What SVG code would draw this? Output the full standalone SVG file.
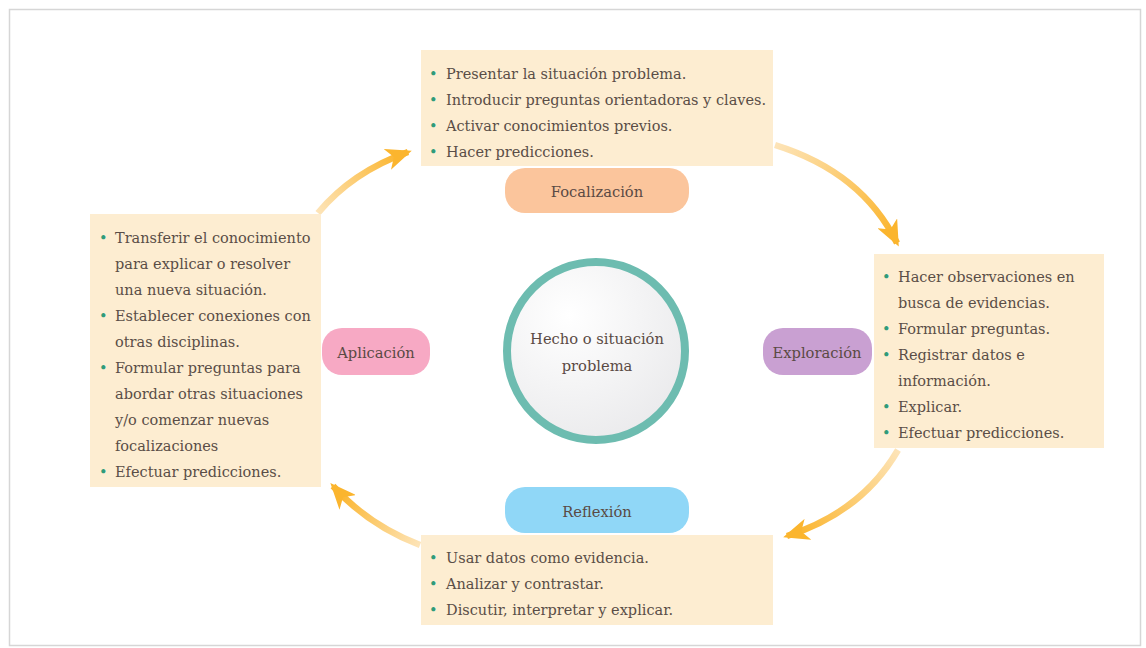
<svg xmlns="http://www.w3.org/2000/svg" width="1146" height="648" viewBox="0 0 1146 648">
<defs>
<style>
.box{fill:#fdedd1}
.t{font-family:"DejaVu Serif",serif;font-size:14.5px;fill:#5a4e47}
.b{fill:#2f9b7a}
.lbl{font-family:"DejaVu Serif",serif;font-size:14.7px;fill:#5a4a44;text-anchor:middle}
.arr{fill:none;stroke-width:6.5;stroke-linecap:butt}
</style>
<radialGradient id="cg" cx="0.35" cy="0.3" r="0.8">
<stop offset="0" stop-color="#ffffff"/>
<stop offset="1" stop-color="#e9e9eb"/>
</radialGradient>
<marker id="ah" viewBox="0 0 26 22" refX="22" refY="11" markerWidth="26" markerHeight="22" markerUnits="userSpaceOnUse" orient="auto">
<path d="M0,0 L26,11 L0,22 L7,11 Z" fill="#fbb52e"/>
</marker>
<linearGradient id="g1" gradientUnits="userSpaceOnUse" x1="318" y1="213" x2="400" y2="155"><stop offset="0" stop-color="#fde4b8"/><stop offset="1" stop-color="#fbb52e"/></linearGradient>
<linearGradient id="g2" gradientUnits="userSpaceOnUse" x1="775" y1="145" x2="892" y2="235"><stop offset="0" stop-color="#fde4b8"/><stop offset="1" stop-color="#fbb52e"/></linearGradient>
<linearGradient id="g3" gradientUnits="userSpaceOnUse" x1="898" y1="450" x2="795" y2="532"><stop offset="0" stop-color="#fde4b8"/><stop offset="1" stop-color="#fbb52e"/></linearGradient>
<linearGradient id="g4" gradientUnits="userSpaceOnUse" x1="420" y1="545" x2="340" y2="492"><stop offset="0" stop-color="#fde4b8"/><stop offset="1" stop-color="#fbb52e"/></linearGradient>
</defs>
<rect x="0" y="0" width="1146" height="648" fill="#ffffff"/>
<rect x="9.5" y="9.5" width="1131" height="636" fill="#ffffff" stroke="#d6d6d6" stroke-width="1.5"/>

<g id="connectors">
<path class="arr" stroke="url(#g1)" d="M318,213 Q352,172 408,152" marker-end="url(#ah)"/>
<path class="arr" stroke="url(#g2)" d="M775,145 Q862,172 897,243" marker-end="url(#ah)"/>
<path class="arr" stroke="url(#g3)" d="M898,450 Q862,512 787,536" marker-end="url(#ah)"/>
<path class="arr" stroke="url(#g4)" d="M420,545 Q368,525 333,486" marker-end="url(#ah)"/>
</g>

<g id="center">
<circle cx="596" cy="351" r="89" fill="url(#cg)" stroke="#6dbcb0" stroke-width="8"/>
<text class="lbl" x="597" y="344">Hecho o situación</text>
<text class="lbl" x="597" y="371">problema</text>
</g>

<g id="focalizacion">
<rect class="box" x="421" y="50" width="352" height="116"/>
<text class="t"><tspan class="b" x="429" y="79">•</tspan><tspan x="446">Presentar la situación problema.</tspan></text>
<text class="t"><tspan class="b" x="429" y="105">•</tspan><tspan x="446">Introducir preguntas orientadoras y claves.</tspan></text>
<text class="t"><tspan class="b" x="429" y="131">•</tspan><tspan x="446">Activar conocimientos previos.</tspan></text>
<text class="t"><tspan class="b" x="429" y="157">•</tspan><tspan x="446">Hacer predicciones.</tspan></text>
<rect x="505" y="168" width="184" height="45" rx="20" fill="#fbc59c"/>
<text class="lbl" x="597" y="197">Focalización</text>
</g>

<g id="exploracion">
<rect class="box" x="874" y="254" width="230" height="194"/>
<text class="t"><tspan class="b" x="882" y="282">•</tspan><tspan x="898">Hacer observaciones en</tspan></text>
<text class="t" x="898" y="308">busca de evidencias.</text>
<text class="t"><tspan class="b" x="882" y="334">•</tspan><tspan x="898">Formular preguntas.</tspan></text>
<text class="t"><tspan class="b" x="882" y="360">•</tspan><tspan x="898">Registrar datos e</tspan></text>
<text class="t" x="898" y="386">información.</text>
<text class="t"><tspan class="b" x="882" y="412">•</tspan><tspan x="898">Explicar.</tspan></text>
<text class="t"><tspan class="b" x="882" y="438">•</tspan><tspan x="898">Efectuar predicciones.</tspan></text>
<rect x="763" y="328" width="109" height="47" rx="20" fill="#c9a0d2"/>
<text class="lbl" x="817" y="358">Exploración</text>
</g>

<g id="reflexion">
<rect class="box" x="421" y="535" width="352" height="90"/>
<text class="t"><tspan class="b" x="429" y="563">•</tspan><tspan x="446">Usar datos como evidencia.</tspan></text>
<text class="t"><tspan class="b" x="429" y="589">•</tspan><tspan x="446">Analizar y contrastar.</tspan></text>
<text class="t"><tspan class="b" x="429" y="615">•</tspan><tspan x="446">Discutir, interpretar y explicar.</tspan></text>
<rect x="505" y="487" width="184" height="46" rx="20" fill="#90d7f7"/>
<text class="lbl" x="597" y="517">Reflexión</text>
</g>

<g id="aplicacion">
<rect class="box" x="90" y="214" width="231" height="273"/>
<text class="t"><tspan class="b" x="99" y="243">•</tspan><tspan x="115">Transferir el conocimiento</tspan></text>
<text class="t" x="115" y="269">para explicar o resolver</text>
<text class="t" x="115" y="295">una nueva situación.</text>
<text class="t"><tspan class="b" x="99" y="321">•</tspan><tspan x="115">Establecer conexiones con</tspan></text>
<text class="t" x="115" y="347">otras disciplinas.</text>
<text class="t"><tspan class="b" x="99" y="373">•</tspan><tspan x="115">Formular preguntas para</tspan></text>
<text class="t" x="115" y="399">abordar otras situaciones</text>
<text class="t" x="115" y="425">y/o comenzar nuevas</text>
<text class="t" x="115" y="451">focalizaciones</text>
<text class="t"><tspan class="b" x="99" y="477">•</tspan><tspan x="115">Efectuar predicciones.</tspan></text>
<rect x="322" y="328" width="108" height="47" rx="20" fill="#f7a9c4"/>
<text class="lbl" x="376" y="358">Aplicación</text>
</g>
</svg>
